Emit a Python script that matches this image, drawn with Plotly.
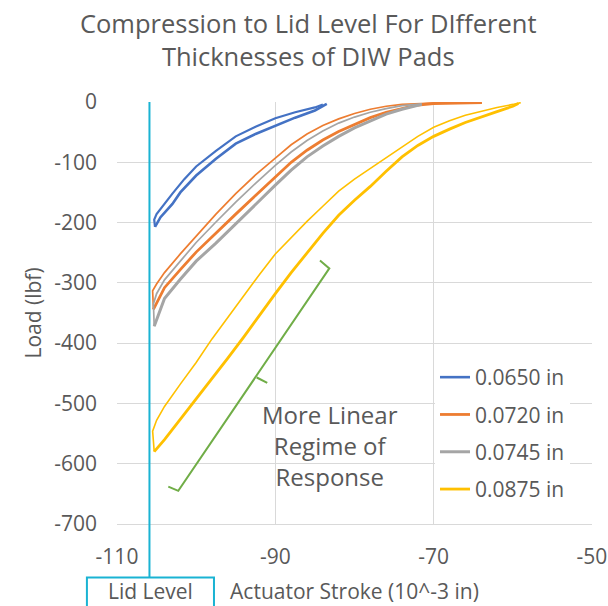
import plotly.graph_objects as go

# ---------------- data ----------------
X_RANGE = [-110, -50]
Y_RANGE = [-700, 0]
LID_LEVEL = -105.9

series_names = ["0.0650 in", "0.0720 in", "0.0745 in", "0.0875 in"]
colors = ["#4472C4", "#ED7D31", "#A5A5A5", "#FFC000"]

# 0.0650 in : loading branch (stroke decreasing) and unloading branch
blue_load_x = [-83.5, -85, -87.5, -90, -92.5, -95, -97.5, -100, -102, -103, -104.5, -105.2]
blue_load_y = [-3, -14, -26, -39, -53, -69, -94, -122, -150, -169, -191, -207]
blue_unload_x = [-105.2, -105.3, -105.0, -104.5, -103.8, -103, -101.5, -100, -97.5, -95, -92.5, -90, -87.5, -85, -84]
blue_unload_y = [-207, -195, -186, -177, -165, -152, -128, -107, -81, -57, -41, -27, -17, -9, -4]

# 0.0720 in
orange_load_x = [-63.9, -67, -70, -72, -74, -76, -78, -80, -82, -84, -86, -88, -90,
                 -92.5, -95, -97.5, -100, -102, -104, -105.4]
orange_load_y = [-1, -1.5, -2.5, -5, -11, -17, -26, -37, -49, -63, -80, -100, -124,
                 -155, -186, -218, -249, -278, -308, -344]
orange_unload_x = [-105.4, -105.5, -105, -104, -102, -100, -97.5, -95, -92.5, -90, -88, -86,
                   -84, -82, -80, -78, -76, -74, -72, -70, -68, -66]
orange_unload_y = [-344, -313, -302, -283, -252, -222, -186, -152, -121, -93, -71, -53,
                   -39, -28, -19, -12, -7, -4, -2.5, -2, -1.5, -1]

# 0.0745 in
gray_load_x = [-71.5, -74, -76, -78, -80, -82, -84, -86, -88, -90, -92.5, -95,
               -97.5, -100, -102, -104, -105.3]
gray_load_y = [-4, -12, -20, -31, -43, -57, -73, -91, -113, -138, -170, -202,
               -234, -264, -294, -326, -372]
gray_unload_x = [-105.3, -105.4, -105, -104, -102, -100, -97.5, -95, -92.5, -90, -88, -86,
                 -84, -82, -80, -78, -76, -74, -71.5]
gray_unload_y = [-372, -335, -318, -295, -264, -233, -199, -166, -135, -105, -83, -64,
                 -48, -35, -25, -17, -11, -6, -3]

# 0.0875 in
yellow_load_x = [-59.3, -60, -62, -64, -66, -68, -70, -72, -74, -76, -78, -80, -82, -84, -86,
                 -88, -90, -92, -94, -96, -98, -100, -102, -104, -105.3]
yellow_load_y = [-2.5, -7, -16, -25, -34, -45, -57, -72, -91, -115, -140, -163, -188, -218, -250,
                 -283, -318, -355, -390, -425, -459, -494, -528, -560, -580]
yellow_unload_x = [-105.3, -105.5, -105, -104, -102, -100, -98, -96, -94, -92, -90, -88, -86,
                   -84, -82, -80, -78, -76, -74, -72, -70, -68, -66, -64, -62, -60, -59]
yellow_unload_y = [-580, -546, -528, -505, -468, -432, -393, -357, -321, -286, -252, -225, -198,
                   -173, -148, -128, -110, -92, -75, -57, -42, -31, -22, -15, -9, -4, -1]

x_ticks = [-110, -90, -70, -50]
y_ticks = [0, -100, -200, -300, -400, -500, -600, -700]

title_lines = ["Compression to Lid Level For DIfferent", "Thicknesses of DIW Pads"]
x_title = "Actuator Stroke (10^-3 in)"
y_title = "Load (lbf)"
note_lines = ["More Linear", "Regime of", "Response"]
lid_label = "Lid Level"

# bracket (data coordinates): hook top, corner top, corner bottom, hook bottom, middle tick
bracket_x = [-84.36, -83.18, -102.26, -103.52]
bracket_y = [-263, -276, -645, -638]
bracket_mid_x = [-92.35, -91.02]
bracket_mid_y = [-457, -466]

# ---------------- figure ----------------
TEXT = "#595959"
GRID = "#D9D9D9"
FONT = "Open Sans"

loads = [(blue_load_x, blue_load_y), (orange_load_x, orange_load_y),
         (gray_load_x, gray_load_y), (yellow_load_x, yellow_load_y)]
unloads = [(blue_unload_x, blue_unload_y), (orange_unload_x, orange_unload_y),
           (gray_unload_x, gray_unload_y), (yellow_unload_x, yellow_unload_y)]
load_w = [2.6, 2.8, 3.0, 2.8]
unload_w = [2.2, 1.7, 1.7, 1.6]

fig = go.Figure()
for i, name in enumerate(series_names):
    lx, ly = loads[i]
    ux, uy = unloads[i]
    fig.add_trace(go.Scatter(x=lx, y=ly, mode="lines", name=name, legendgroup=name,
                             line=dict(color=colors[i], width=load_w[i])))
    fig.add_trace(go.Scatter(x=ux, y=uy, mode="lines", name=name, legendgroup=name,
                             showlegend=False,
                             line=dict(color=colors[i], width=unload_w[i])))


def to_paper_x(v):
    return (v - X_RANGE[0]) / (X_RANGE[1] - X_RANGE[0])


CYAN = "#1AB3D3"
lid_px = to_paper_x(LID_LEVEL)

shapes = [
    dict(type="line", xref="paper", yref="paper", x0=lid_px, x1=lid_px, y0=-0.127, y1=1,
         line=dict(color=CYAN, width=2)),
    dict(type="rect", xref="paper", yref="paper",
         x0=to_paper_x(LID_LEVEL - 7.9), x1=to_paper_x(LID_LEVEL + 8.15), y0=-0.127, y1=-0.30,
         line=dict(color=CYAN, width=2), fillcolor="rgba(0,0,0,0)"),
    dict(type="path", xref="x", yref="y",
         path="M {} {} L {} {} L {} {} L {} {} M {} {} L {} {}".format(
             bracket_x[0], bracket_y[0], bracket_x[1], bracket_y[1],
             bracket_x[2], bracket_y[2], bracket_x[3], bracket_y[3],
             bracket_mid_x[0], bracket_mid_y[0], bracket_mid_x[1], bracket_mid_y[1]),
         line=dict(color="#70AD47", width=2)),
]

annotations = [
    dict(text="<br>".join(note_lines), x=-83.1, y=-570, xref="x", yref="y",
         showarrow=False, xanchor="center", yanchor="middle", align="center",
         font=dict(family=FONT, size=24, color=TEXT)),
    dict(text=lid_label, x=lid_px + 0.003, y=-0.1588, xref="paper", yref="paper",
         showarrow=False, xanchor="center", yanchor="middle",
         font=dict(family=FONT, size=21, color=TEXT)),
]

fig.update_layout(
    width=608, height=606,
    margin=dict(l=117, r=16, t=102, b=82, autoexpand=False),
    paper_bgcolor="white", plot_bgcolor="white",
    font=dict(family=FONT, color=TEXT, size=21),
    title=dict(text="<br>".join(title_lines), x=0.507, xref="container", xanchor="center",
               y=0.945, yref="container", yanchor="middle",
               font=dict(family=FONT, size=25.5, color=TEXT)),
    showlegend=True,
    legend=dict(x=0.6695, xanchor="left", y=0.3957, yanchor="top",
                bgcolor="white", font=dict(family=FONT, size=21, color=TEXT),
                tracegroupgap=7, itemwidth=30),
    shapes=shapes,
    annotations=annotations,
)

fig.update_xaxes(range=X_RANGE, tickvals=x_ticks, ticktext=[str(v) for v in x_ticks],
                 automargin=False,
                 showgrid=True, gridcolor=GRID, gridwidth=1, zeroline=False,
                 showline=True, linecolor=GRID, linewidth=1, mirror=False,
                 ticks="", ticklabelstandoff=14,
                 tickfont=dict(family=FONT, size=21, color=TEXT),
                 title=dict(text=x_title, standoff=15, font=dict(family=FONT, size=21, color=TEXT)))
fig.update_yaxes(range=Y_RANGE, tickvals=y_ticks, ticktext=[str(v) for v in y_ticks],
                 automargin=False,
                 showgrid=True, gridcolor=GRID, gridwidth=1, zeroline=False,
                 showline=False, ticks="", ticklabelstandoff=19,
                 tickfont=dict(family=FONT, size=21, color=TEXT),
                 title=dict(text=y_title, standoff=6, font=dict(family=FONT, size=21, color=TEXT)))

fig.write_html("out.html")
